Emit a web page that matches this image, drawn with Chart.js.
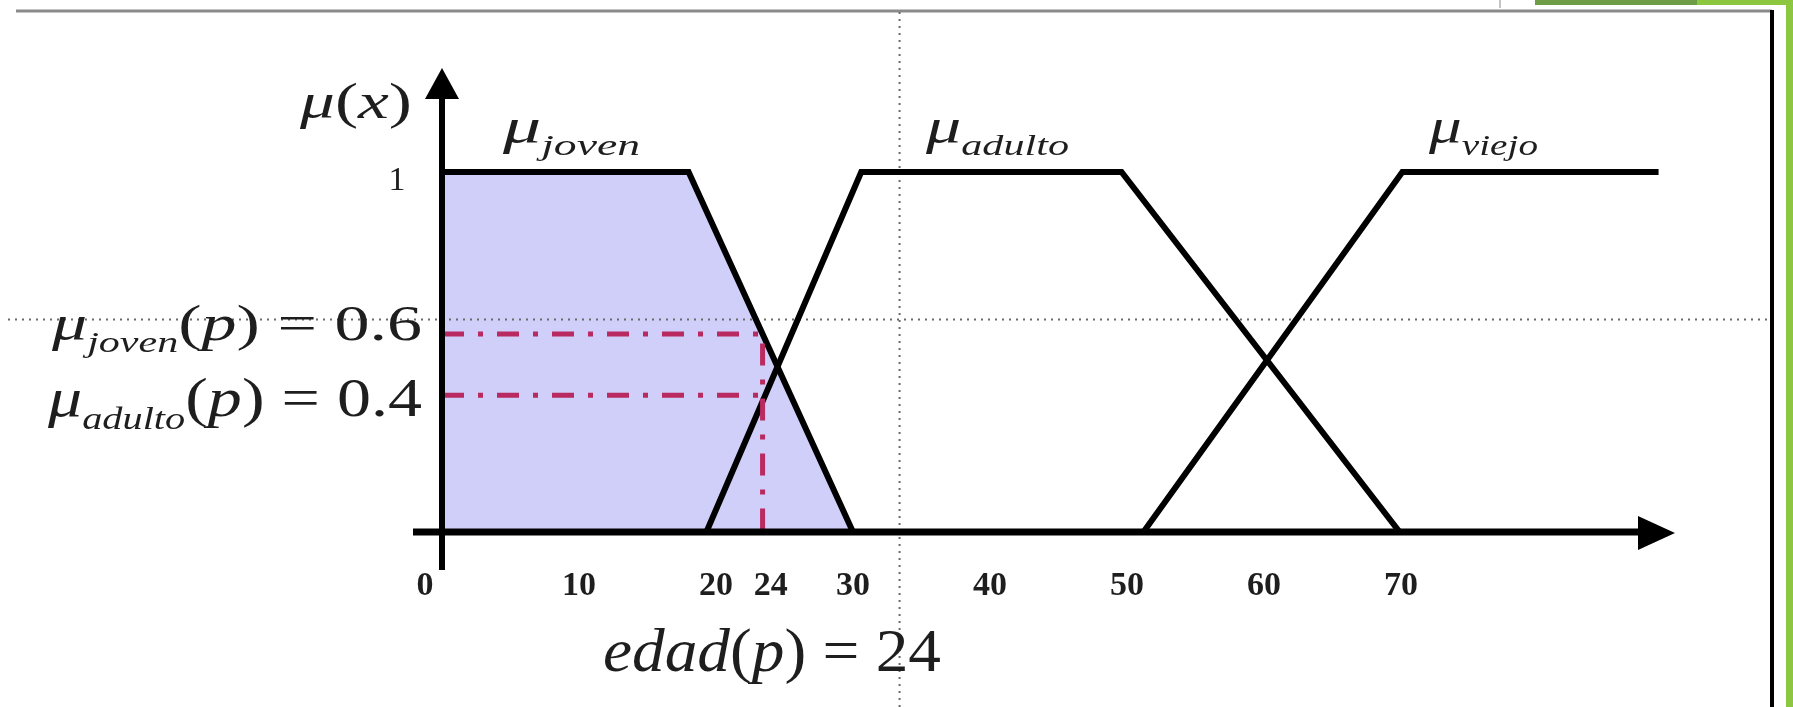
<!DOCTYPE html>
<html>
<head>
<meta charset="utf-8">
<script src="https://cdn.jsdelivr.net/npm/chart.js@4.4.1/dist/chart.umd.min.js"></script>
<style>
  html, body { margin: 0; padding: 0; background: #fff; }
  #wrap { width: 1793px; height: 707px; background: #fff; }
</style>
</head>
<body>
<div id="wrap"><canvas id="chart" width="1793" height="707"></canvas></div>
<script>
// Funciones de pertenencia (edad -> grado)
const jovenX = [0, 18, 30];
const jovenY = [1, 1, 0];
const adultoX = [19.3, 30.6, 49.6, 69.9];
const adultoY = [0, 1, 1, 0];
const viejoX = [51.2, 70.1, 88.8];
const viejoY = [0, 1, 1];

// Cortes rojos para edad(p) = 24
const corteJovenX = [0, 23.4, 23.4];
const corteJovenY = [0.55, 0.55, 0];
const corteAdultoX = [0, 23.4];
const corteAdultoY = [0.38, 0.38];

// Guias punteadas grises
const guiaX = 33.4;
const guiaY = 0.59;

// Etiquetas de los ejes
const xTicks = [0, 10, 20, 24, 30, 40, 50, 60, 70];
const yTicks = [1];

const SERIF = '"Liberation Serif", "DejaVu Serif", serif';
const LAVANDA = "rgb(207, 207, 250)";
const ROJO = "rgb(184, 42, 96)";

function pts(xs, ys) {
  return xs.map((x, i) => ({ x: x, y: ys[i] }));
}

function fontOf(p) {
  return (p.italic ? "italic " : "") + (p.bold ? "bold " : "") + p.size + "px " + SERIF;
}

// Texto con subindices, estirado a lo ancho como en el original
function drawRich(ctx, parts, left, baseline, width) {
  let natural = 0;
  parts.forEach((p) => {
    ctx.font = fontOf(p);
    natural += ctx.measureText(p.t).width;
  });
  ctx.save();
  ctx.translate(left, baseline);
  ctx.scale(width / natural, 1);
  ctx.fillStyle = "#1e1e1e";
  ctx.textAlign = "left";
  ctx.textBaseline = "alphabetic";
  let x = 0;
  parts.forEach((p) => {
    ctx.font = fontOf(p);
    ctx.fillText(p.t, x, p.dy || 0);
    x += ctx.measureText(p.t).width;
  });
  ctx.restore();
}

function mu(sub, size) {
  return [
    { t: "\u03bc", italic: true, size: size },
    { t: sub, italic: true, size: Math.round(size * 0.6), dy: Math.round(size * 0.24) },
  ];
}

const decor = {
  id: "decor",
  beforeDraw(chart) {
    const { ctx } = chart;
    ctx.save();
    // marco de la diapositiva
    ctx.fillStyle = "#6f9c46";
    ctx.fillRect(1535, 0, 162, 5);
    ctx.fillStyle = "#8dc63f";
    ctx.fillRect(1697, 0, 96, 5);
    ctx.fillRect(1786, 0, 7, 707);
    ctx.strokeStyle = "#8a8a8a";
    ctx.lineWidth = 3;
    ctx.beginPath();
    ctx.moveTo(16, 11);
    ctx.lineTo(1772, 11);
    ctx.stroke();
    ctx.lineWidth = 1;
    ctx.beginPath();
    ctx.moveTo(1500, 0);
    ctx.lineTo(1500, 8);
    ctx.stroke();
    ctx.strokeStyle = "#000";
    ctx.lineWidth = 4;
    ctx.beginPath();
    ctx.moveTo(1772, 10);
    ctx.lineTo(1772, 707);
    ctx.stroke();
    ctx.restore();
  },
  beforeDatasetsDraw(chart) {
    const { ctx, scales: { x, y } } = chart;
    const gx = x.getPixelForValue(guiaX);
    const gy = y.getPixelForValue(guiaY);
    ctx.save();
    ctx.strokeStyle = "#6a6a6a";
    ctx.lineWidth = 2;
    ctx.setLineDash([2, 5]);
    ctx.beginPath();
    ctx.moveTo(8, gy);
    ctx.lineTo(1770, gy);
    ctx.moveTo(gx, 12);
    ctx.lineTo(gx, 707);
    ctx.stroke();
    ctx.restore();
  },
  afterDatasetsDraw(chart) {
    const { ctx, chartArea, scales: { x, y } } = chart;
    const x0 = x.getPixelForValue(0);
    const y0 = y.getPixelForValue(0);
    ctx.save();
    ctx.strokeStyle = "#000";
    ctx.fillStyle = "#000";
    ctx.lineCap = "butt";
    // eje x con flecha
    ctx.lineWidth = 7;
    ctx.beginPath();
    ctx.moveTo(x0 - 29, y0);
    ctx.lineTo(chartArea.right - 30, y0);
    ctx.stroke();
    ctx.beginPath();
    ctx.moveTo(chartArea.right, y0 + 1);
    ctx.lineTo(chartArea.right - 37, y0 - 16);
    ctx.lineTo(chartArea.right - 37, y0 + 18);
    ctx.closePath();
    ctx.fill();
    // eje y con flecha
    ctx.lineWidth = 6;
    ctx.beginPath();
    ctx.moveTo(x0, y0 + 38);
    ctx.lineTo(x0, chartArea.top + 25);
    ctx.stroke();
    ctx.beginPath();
    ctx.moveTo(x0, chartArea.top);
    ctx.lineTo(x0 - 17, chartArea.top + 31);
    ctx.lineTo(x0 + 17, chartArea.top + 31);
    ctx.closePath();
    ctx.fill();

    // etiquetas de los ejes
    ctx.fillStyle = "#1e1e1e";
    ctx.textAlign = "center";
    ctx.textBaseline = "alphabetic";
    ctx.font = "bold 34px " + SERIF;
    xTicks.forEach((v) => {
      const off = v === 0 ? -17 : 0;
      ctx.fillText(String(v), x.getPixelForValue(v) + off, y0 + 63);
    });
    ctx.font = "34px " + SERIF;
    yTicks.forEach((v) => {
      ctx.fillText(String(v), x0 - 45, y.getPixelForValue(v) + 18);
    });
    ctx.restore();

    // textos de la figura
    drawRich(ctx, [
      { t: "\u03bc", italic: true, size: 50 },
      { t: "(", size: 50 },
      { t: "x", italic: true, size: 50 },
      { t: ")", size: 50 },
    ], 300, 118, 112);
    drawRich(ctx, mu("joven", 50), 503, 143, 137);
    drawRich(ctx, mu("adulto", 50), 926, 143, 143);
    drawRich(ctx, mu("viejo", 50), 1429, 143, 109);
    drawRich(ctx, mu("joven", 50).concat([
      { t: "(", size: 50 },
      { t: "p", italic: true, size: 50 },
      { t: ") = 0.6", size: 50 },
    ]), 52, 340, 370);
    drawRich(ctx, mu("adulto", 54).concat([
      { t: "(", size: 54 },
      { t: "p", italic: true, size: 54 },
      { t: ") = 0.4", size: 54 },
    ]), 48, 416, 374);
    drawRich(ctx, [
      { t: "edad", italic: true, size: 62 },
      { t: "(", size: 62 },
      { t: "p", italic: true, size: 62 },
      { t: ") = 24", size: 62 },
    ], 603, 671, 338);
  },
};

const lineaNegra = {
  borderColor: "#000",
  borderWidth: 6,
  pointRadius: 0,
  tension: 0,
  borderJoinStyle: "miter",
  borderCapStyle: "butt",
  fill: false,
  order: 2,
};

const lineaRoja = {
  borderColor: ROJO,
  borderWidth: 5,
  borderDash: [22, 14, 5, 14],
  pointRadius: 0,
  tension: 0,
  fill: false,
  order: 1,
};

new Chart(document.getElementById("chart"), {
  type: "line",
  data: {
    datasets: [
      { label: "corte joven", data: pts(corteJovenX, corteJovenY), ...lineaRoja },
      { label: "corte adulto", data: pts(corteAdultoX, corteAdultoY), ...lineaRoja },
      { label: "joven", data: pts(jovenX, jovenY), ...lineaNegra, fill: "origin", backgroundColor: LAVANDA },
      { label: "adulto", data: pts(adultoX, adultoY), ...lineaNegra },
      { label: "viejo", data: pts(viejoX, viejoY), ...lineaNegra },
    ],
  },
  options: {
    responsive: false,
    animation: false,
    devicePixelRatio: 1,
    layout: { padding: { left: 442, right: 118, top: 68, bottom: 175 } },
    scales: {
      x: { type: "linear", min: 0, max: 90, display: false },
      y: { type: "linear", min: 0, max: 1.289, display: false },
    },
    plugins: {
      legend: { display: false },
      tooltip: { enabled: false },
      filler: { drawTime: "beforeDraw" },
    },
  },
  plugins: [decor],
});
</script>
</body>
</html>
